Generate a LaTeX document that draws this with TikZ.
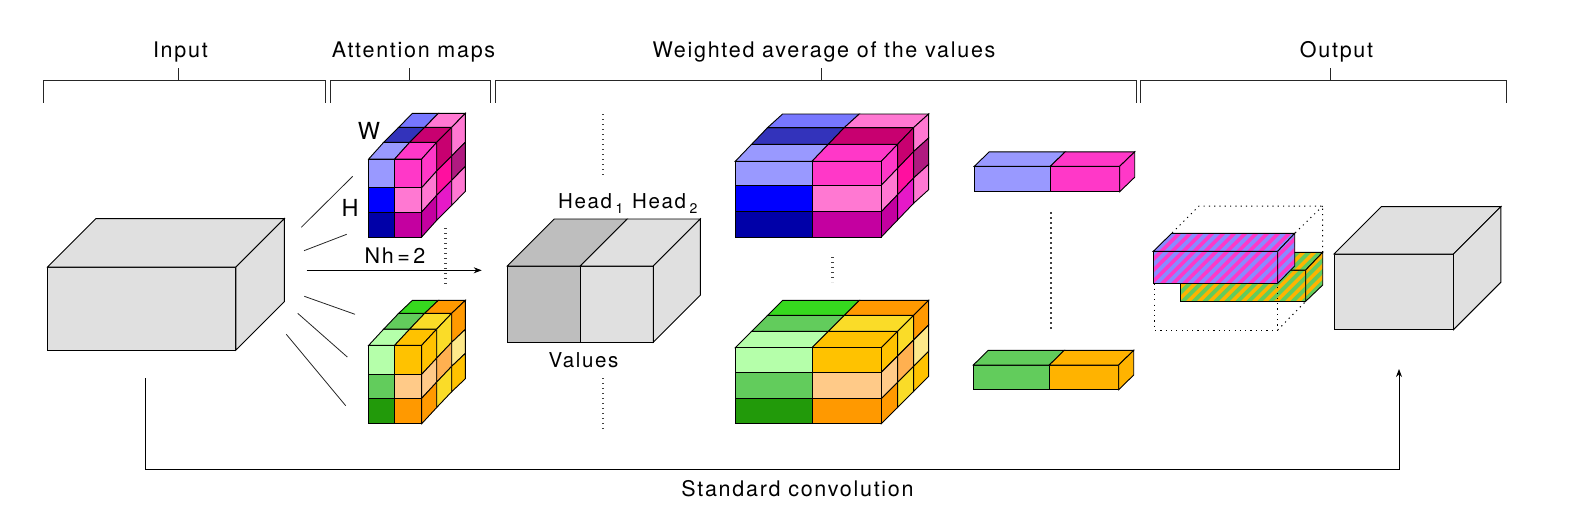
\documentclass[tikz,border=0pt]{standalone}
\usepackage{fontspec}
\setmainfont[LetterSpace=8]{TeX Gyre Heros}
\usetikzlibrary{arrows.meta}
% pink cube colours
\definecolor{pink1}{HTML}{FF38C8}\definecolor{pink2}{HTML}{FF78D2}\definecolor{pink3}{HTML}{C400A0}
\definecolor{pink4}{HTML}{C80070}\definecolor{pink5}{HTML}{FF0F9F}\definecolor{pink6}{HTML}{E619C8}\definecolor{pink7}{HTML}{B01A80}
\definecolor{blue1}{HTML}{9999FF}\definecolor{blue2}{HTML}{0000FF}\definecolor{blue3}{HTML}{0000A8}
\definecolor{blue4}{HTML}{3333BB}\definecolor{blue5}{HTML}{7777FF}
\definecolor{gr1}{HTML}{B5FFAA}\definecolor{gr2}{HTML}{62CC5C}\definecolor{gr3}{HTML}{229A0A}\definecolor{gr4}{HTML}{36D91E}
\definecolor{or1}{HTML}{FFC200}\definecolor{or2}{HTML}{FFCA88}\definecolor{or3}{HTML}{FF9900}
\definecolor{or4}{HTML}{FADC28}\definecolor{or5}{HTML}{FFB050}\definecolor{or6}{HTML}{FDE88A}\definecolor{or7}{HTML}{FFB300}
\definecolor{boxgray}{HTML}{E0E0E0}\definecolor{headgray}{HTML}{BEBEBE}
% faces: F=front, T=top, R=right
\colorlet{pFL1}{blue1}\colorlet{pFL2}{blue2}\colorlet{pFL3}{blue3}
\colorlet{pFR1}{pink1}\colorlet{pFR2}{pink2}\colorlet{pFR3}{pink3}
\colorlet{pTL1}{blue1}\colorlet{pTL2}{blue4}\colorlet{pTL3}{blue5}
\colorlet{pTR1}{pink1}\colorlet{pTR2}{pink4}\colorlet{pTR3}{pink2}
\colorlet{pR11}{pink1}\colorlet{pR12}{pink2}\colorlet{pR13}{pink3}
\colorlet{pR21}{pink4}\colorlet{pR22}{pink5}\colorlet{pR23}{pink6}
\colorlet{pR31}{pink2}\colorlet{pR32}{pink7}\colorlet{pR33}{pink2}
\colorlet{gFL1}{gr1}\colorlet{gFL2}{gr2}\colorlet{gFL3}{gr3}
\colorlet{gFR1}{or1}\colorlet{gFR2}{or2}\colorlet{gFR3}{or3}
\colorlet{gTL1}{gr1}\colorlet{gTL2}{gr2}\colorlet{gTL3}{gr4}
\colorlet{gTR1}{or1}\colorlet{gTR2}{or4}\colorlet{gTR3}{or3}
\colorlet{gR11}{or1}\colorlet{gR12}{or2}\colorlet{gR13}{or3}
\colorlet{gR21}{or4}\colorlet{gR22}{or5}\colorlet{gR23}{or4}
\colorlet{gR31}{or3}\colorlet{gR32}{or6}\colorlet{gR33}{or1}
% #1 prefix, #2-#4 column x, #5-#8 row y, #9 = three depth steps dx1/dy1/dx2/dy2/dx3/dy3
\newcommand\gridcube[9]{%
  \foreach \ax/\ay/\bx/\by/\i in {#9}{%
    \foreach \xa/\xb/\k in {#2/#3/L,#3/#4/R}
      \path[face,fill=#1T\k\i] (\xa+\ax,#5-\ay) -- (\xb+\ax,#5-\ay) -- (\xb+\bx,#5-\by) -- (\xa+\bx,#5-\by) -- cycle;
    \foreach \ta/\tb/\j in {#5/#6/1,#6/#7/2,#7/#8/3}
      \path[face,fill=#1R\i\j] (#4+\ax,\ta-\ay) -- (#4+\bx,\ta-\by) -- (#4+\bx,\tb-\by) -- (#4+\ax,\tb-\ay) -- cycle;
  }%
  \foreach \ta/\tb/\j in {#5/#6/1,#6/#7/2,#7/#8/3}{%
    \path[face,fill=#1FL\j] (#2,\ta) rectangle (#3,\tb);
    \path[face,fill=#1FR\j] (#3,\ta) rectangle (#4,\tb);
  }%
}
% plain cuboid: #1 fill, #2 x0, #3 x1, #4 y0, #5 y1, #6 dx, #7 dy
\newcommand\plainbox[7]{%
  \path[face,fill=#1] (#2,#4) rectangle (#3,#5);
  \path[face,fill=#1] (#2,#4) -- (#2+#6,#4-#7) -- (#3+#6,#4-#7) -- (#3,#4) -- cycle;
  \path[face,fill=#1] (#3,#4) -- (#3+#6,#4-#7) -- (#3+#6,#5-#7) -- (#3,#5) -- cycle;
}
% flat bar split in two: #1 left, #2 right, #3 x0, #4 x1, #5 x2, #6 y0, #7 y1, #8 dx, #9 dy
\newcommand\splitbar[9]{%
  \path[face,fill=#1] (#3,#6) rectangle (#4,#7);
  \path[face,fill=#2] (#4,#6) rectangle (#5,#7);
  \path[face,fill=#1] (#3,#6) -- (#3+#8,#6-#9) -- (#4+#8,#6-#9) -- (#4,#6) -- cycle;
  \path[face,fill=#2] (#4,#6) -- (#4+#8,#6-#9) -- (#5+#8,#6-#9) -- (#5,#6) -- cycle;
  \path[face,fill=#2] (#5,#6) -- (#5+#8,#6-#9) -- (#5+#8,#7-#9) -- (#5,#7) -- cycle;
}
% striped polygon: #1 background, #2 stripes, #3 path
\newcommand\stripeface[3]{%
  \begin{scope}
    \clip #3;
    \fill[#1] (1100,180) rectangle (1360,340);
    \foreach \s in {-198,-187,...,440}
      \draw[#2,line width=3.9pt] (1100+\s,340) -- (1100+\s+160,180);
  \end{scope}
  \path[face] #3;
}
\newcommand\secbrace[6]{% name, left, right, centre, label x, label
  \coordinate (#1bl) at (#2,102.8);
  \coordinate (#1tl) at (#2,80.6);
  \coordinate (#1tr) at (#3,80.6);
  \coordinate (#1br) at (#3,102.8);
  \coordinate (#1c) at (#4,80.6);
  \coordinate (#1t) at (#4,67.5);
  \draw[conn] (#1bl) -- (#1tl) -- (#1tr) -- (#1br);
  \draw[conn] (#1c) -- (#1t);
  \node[lab] (#1) at (#5,52) {#6};
}
\newcommand\subnum[1]{\,\raisebox{-5.5pt}{\fontsize{14}{16}\selectfont #1}}
\tikzset{
  face/.style={draw=black,line width=0.9pt,line join=miter},
  conn/.style={draw=black!85,line width=0.8pt},
  lab/.style={font=\fontsize{21.5}{24}\selectfont,inner sep=0pt,text=black},
  headlab/.style={font=\fontsize{20.5}{24}\selectfont,inner sep=0pt,text=black,anchor=base west},
  vdots/.style={draw=black!75,line width=2.8pt,dash pattern=on 1.4pt off 3.6pt},
  dotbox/.style={draw=black,line width=1pt,dash pattern=on 1.2pt off 4.1pt},
  tip/.style={-{Stealth[length=8pt,width=6pt]}}
}
\begin{document}
\begin{tikzpicture}[x=1pt,y=-1pt]
\useasboundingbox (0,0) rectangle (1582,522);
\secbrace{input}{43.3}{325.6}{178.4}{180.4}{Input}
\secbrace{attn}{330.6}{490}{409}{413.5}{Attention maps}
\secbrace{avg}{495}{1136}{821.5}{824}{Weighted average of the values}
\secbrace{out}{1140}{1506}{1330.6}{1336.5}{Output}
% input box
\plainbox{boxgray}{47.4}{235.9}{267}{350}{48.4}{48.4}
% spokes
\coordinate (s1a) at (301.3,227.3); \coordinate (s1b) at (352.7,176.3);
\coordinate (s2a) at (304,250.7);   \coordinate (s2b) at (346.7,234.3);
\coordinate (s3a) at (304.3,296.3); \coordinate (s3b) at (355,314.3);
\coordinate (s4a) at (297.7,313.3); \coordinate (s4b) at (347.3,357);
\coordinate (s5a) at (286.3,334.3); \coordinate (s5b) at (345.7,405.7);
\foreach \n in {1,...,5} \draw[conn] (s\n a) -- (s\n b);
% small attention cubes
\gridcube{p}{368.7}{394.7}{421.7}{159}{187.7}{212}{237}{0/0/15/16.7/1,15/16.7/30/31.7/2,30/31.7/43.7/45.7/3}
\gridcube{g}{368.7}{394.7}{421.7}{345.3}{374.3}{398.3}{423.7}{0/0/15/16.2/1,15/16.2/30/32/2,30/32/43.7/45/3}
\node[lab,font=\fontsize{23.5}{26}\selectfont] (W) at (369,131) {W};
\node[lab,font=\fontsize{23.5}{26}\selectfont] (H) at (350,207.5) {H};
\coordinate (d1a) at (445.7,228); \coordinate (d1b) at (445.7,287);
\draw[vdots] (d1a) -- (d1b);
\node[lab] (nh) at (395,256) {Nh\,=\,2};
\coordinate (aa) at (306.7,270.3); \coordinate (ab) at (481.7,270.3);
\draw[conn,tip,draw=black] (aa) -- (ab);
% values block
\coordinate (d2a) at (603,114); \coordinate (d2b) at (603,178);
\draw[vdots] (d2a) -- (d2b);
\coordinate (d3a) at (603,378); \coordinate (d3b) at (603,430);
\draw[vdots] (d3a) -- (d3b);
\splitbar{headgray}{boxgray}{507.3}{580.3}{653.3}{266}{342.3}{47}{47}
\node[headlab] (h1) at (558,208) {Head\subnum{1}};
\node[headlab] (h2) at (632,208) {Head\subnum{2}};
\node[lab,font=\fontsize{20.5}{24}\selectfont] (vals) at (583.5,360.5) {Values};
% big cubes
\gridcube{p}{735.3}{812}{881.3}{161.3}{185.3}{211.7}{237}{0/0/16.3/17/1,16.3/17/32.3/33.7/2,32.3/33.7/47.3/47.3/3}
\gridcube{g}{735.3}{812}{881.3}{347.7}{372.3}{398.7}{423.7}{0/0/16.3/16.3/1,16.3/16.3/32.3/32.3/2,32.3/32.3/47.3/47.3/3}
\coordinate (d4a) at (832.6,257); \coordinate (d4b) at (832.6,282);
\draw[vdots] (d4a) -- (d4b);
% flat bars
\splitbar{blue1}{pink1}{974.3}{1050.3}{1119.7}{166.3}{191.7}{15}{14.5}
\splitbar{gr2}{or7}{973.3}{1049.3}{1118.7}{365}{389.7}{15}{14.7}
\coordinate (d5a) at (1051,212.3); \coordinate (d5b) at (1051,329);
\draw[vdots] (d5a) -- (d5b);
% dotted box, hidden parts skipped
\coordinate (q1) at (1154,283.3); \coordinate (q2) at (1154,330); \coordinate (q3) at (1277.7,330);
\coordinate (q4) at (1277.7,283.3); \coordinate (q5) at (1305.7,301.3);
\coordinate (q6) at (1322.7,252.3); \coordinate (q7) at (1322.7,206); \coordinate (q8) at (1199,206);
\coordinate (q9) at (1171.7,233.3); \coordinate (q10) at (1294.7,233.3);
% striped bars
\stripeface{or7}{gr2}{(1180.7,270) -- (1305.7,270) -- (1305.7,301.3) -- (1180.7,301.3) -- cycle}
\stripeface{or7}{gr2}{(1180.7,270) -- (1198.7,252.3) -- (1322.7,252.3) -- (1305.7,270) -- cycle}
\stripeface{or7}{gr2}{(1305.7,270) -- (1322.7,252.3) -- (1322.7,285) -- (1305.7,301.3) -- cycle}
\stripeface{pink1}{blue1!90!blue}{(1153.3,251.3) -- (1277.7,251.3) -- (1277.7,283.3) -- (1153.3,283.3) -- cycle}
\stripeface{pink1}{blue1!90!blue}{(1153.3,251.3) -- (1171.7,233.3) -- (1294.7,233.3) -- (1277.7,251.3) -- cycle}
\stripeface{pink1}{blue1!90!blue}{(1277.7,251.3) -- (1294.7,233.3) -- (1294.7,266) -- (1277.7,283.3) -- cycle}
\draw[dotbox] (q1) -- (q2) -- (q3) -- (q4);
\draw[dotbox] (q3) -- (q5);
\draw[dotbox] (q6) -- (q7) -- (q8) -- (q9);
\draw[dotbox] (q7) -- (q10);
% output box
\plainbox{boxgray}{1334}{1453.5}{254}{329.6}{47.4}{47.4}
% skip connection
\coordinate (c1) at (145,378); \coordinate (c2) at (145,469.3);
\coordinate (c3) at (1399,469.3); \coordinate (c4) at (1399,369);
\draw[conn,tip,draw=black] (c1) -- (c2) -- (c3) -- (c4);
\node[lab] (std) at (797.5,489) {Standard convolution};
\end{tikzpicture}
\end{document}
